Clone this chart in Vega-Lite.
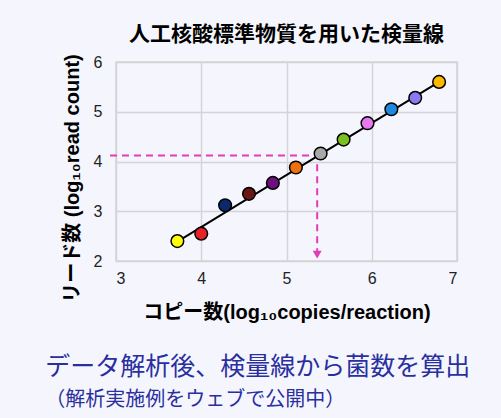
{
  "$schema": "https://vega.github.io/schema/vega-lite/v6.json",
  "background": "#F5F6FD",
  "padding": {"left": 45, "top": 23, "right": 40, "bottom": 8},
  "config": {
    "font": "Liberation Sans, Noto Sans CJK JP, sans-serif",
    "view": {"stroke": "#D4D4D4", "strokeWidth": 1.5},
    "axis": {
      "grid": true, "gridColor": "#D4D4D4", "gridWidth": 1.5,
      "ticks": false, "tickSize": 0, "domain": false,
      "labelFontSize": 16, "labelColor": "#222222", "format": "d",
      "titleFontSize": 20, "titleFontWeight": "bold", "titleColor": "#000000",
      "titleFont": "Liberation Sans, Noto Sans CJK JP, sans-serif"
    }
  },
  "datasets": {
    "pts": [
      {"sample": "1", "copies": 3.72, "reads": 2.40},
      {"sample": "2", "copies": 4.00, "reads": 2.55},
      {"sample": "3", "copies": 4.28, "reads": 3.12},
      {"sample": "4", "copies": 4.56, "reads": 3.35},
      {"sample": "5", "copies": 4.84, "reads": 3.57},
      {"sample": "6", "copies": 5.11, "reads": 3.88},
      {"sample": "7", "copies": 5.40, "reads": 4.16},
      {"sample": "8", "copies": 5.67, "reads": 4.44},
      {"sample": "9", "copies": 5.95, "reads": 4.77},
      {"sample": "10", "copies": 6.23, "reads": 5.05},
      {"sample": "11", "copies": 6.51, "reads": 5.28},
      {"sample": "12", "copies": 6.79, "reads": 5.60}
    ],
    "fit": [
      {"copies": 3.72, "reads": 2.39},
      {"copies": 6.80, "reads": 5.61}
    ],
    "guide": [
      {"step": 1, "copies": 2.93, "reads": 4.12},
      {"step": 2, "copies": 5.36, "reads": 4.12},
      {"step": 3, "copies": 5.36, "reads": 2.2}
    ],
    "arrow": [
      {"copies": 5.36, "reads": 2.13}
    ]
  },
  "title": {
    "text": "データ解析後、検量線から菌数を算出",
    "subtitle": "（解析実施例をウェブで公開中）",
    "orient": "bottom",
    "anchor": "start",
    "dx": -16,
    "offset": 32,
    "fontSize": 25,
    "fontWeight": "normal",
    "color": "#2A2FA0",
    "subtitleFontSize": 20,
    "subtitleColor": "#2A2FA0",
    "subtitlePadding": 10,
    "font": "Liberation Sans, Noto Sans CJK JP, sans-serif",
    "subtitleFont": "Liberation Sans, Noto Sans CJK JP, sans-serif"
  },
  "vconcat": [
    {
      "width": 341,
      "height": 199,
      "title": {
        "text": "人工核酸標準物質を用いた検量線",
        "fontSize": 21,
        "fontWeight": "bold",
        "color": "#000000",
        "anchor": "middle",
        "offset": 9
      },
      "layer": [
        {
          "data": {"name": "fit"},
          "mark": {"type": "line", "color": "#000000", "strokeWidth": 2},
          "encoding": {
            "x": {"field": "copies", "type": "quantitative",
                  "scale": {"domain": [3, 7], "nice": false},
                  "axis": {"values": [3, 4, 5, 6, 7], "labelPadding": 9,
                           "title": "コピー数(log₁₀copies/reaction)", "titlePadding": 16}},
            "y": {"field": "reads", "type": "quantitative",
                  "scale": {"domain": [2, 6], "nice": false},
                  "axis": {"values": [2, 3, 4, 5, 6], "labelPadding": 14,
                           "title": "リード数 (log₁₀read count)",
                           "titleX": -34, "titleY": 116}}
          }
        },
        {
          "data": {"name": "guide"},
          "mark": {"type": "line", "color": "#E23DB6", "strokeWidth": 2, "strokeDash": [7, 5]},
          "encoding": {
            "x": {"field": "copies", "type": "quantitative"},
            "y": {"field": "reads", "type": "quantitative"},
            "order": {"field": "step"}
          }
        },
        {
          "data": {"name": "arrow"},
          "mark": {"type": "point", "shape": "triangle-down", "filled": true, "color": "#E23DB6", "size": 80, "opacity": 1},
          "encoding": {
            "x": {"field": "copies", "type": "quantitative"},
            "y": {"field": "reads", "type": "quantitative"}
          }
        },
        {
          "data": {"name": "pts"},
          "mark": {"type": "circle", "size": 160, "stroke": "#000000", "strokeWidth": 1.5, "opacity": 1},
          "encoding": {
            "x": {"field": "copies", "type": "quantitative"},
            "y": {"field": "reads", "type": "quantitative"},
            "color": {"field": "sample", "type": "nominal", "legend": null,
                      "scale": {"domain": ["1","2","3","4","5","6","7","8","9","10","11","12"],
                                "range": ["#FFFF00","#E8202A","#0A2A6B","#6B1515","#6E0F7F","#F07010","#A8A8A8","#7CC020","#E878F0","#2088E0","#8C78F0","#FFB800"]}}
          }
        }
      ]
    }
  ]
}
